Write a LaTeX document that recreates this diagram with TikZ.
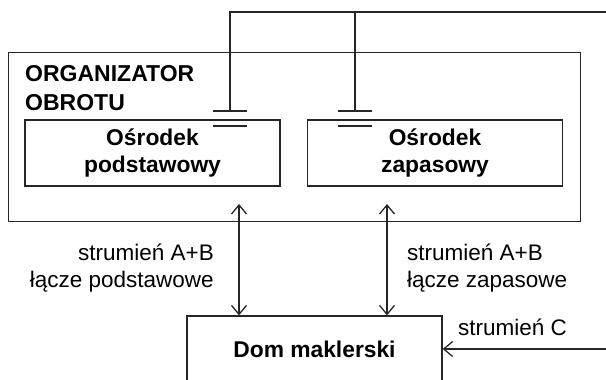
\documentclass[tikz,border=0pt]{standalone}
\usepackage{fontspec}
\setmainfont{Liberation Sans}
\usetikzlibrary{positioning,arrows.meta}
\tikzset{
  ln/.style={draw=black!85,line width=1.3pt},
  blok/.style={ln,minimum width=255pt,minimum height=66pt,inner sep=0pt,align=center,font=\fontsize{22.8}{27}\selectfont\bfseries},
  opis/.style={inner sep=0pt,font=\fontsize{22.5}{27}\selectfont}
}
\begin{document}
\begin{tikzpicture}[x=1pt,y=-1pt,>={Straight Barb[length=9pt,width=15pt]}]
    \useasboundingbox (0,0) rectangle (606,380);
    \clip (0,0) rectangle (606,380);
    \node[ln,minimum width=572pt,minimum height=169pt,anchor=north west] (org) at (8,52) {};
    \node[opis,font=\fontsize{23}{29}\selectfont\bfseries,align=left,anchor=north west] (tyt) at (25,65) {ORGANIZATOR\\OBROTU};
    \node[blok] (osp) at (152.5,153) {Ośrodek\\podstawowy};
    \node[blok] (osz) at (435,153) {Ośrodek\\zapasowy};
    \node[blok] (dom) at (314.5,349) {Dom maklerski};
    \coordinate (szyna) at (606,12);
    \foreach \n/\x in {p/230,z/355} {
        \coordinate (k\n) at (\x,111);
        \draw[ln] (\x-17,111) -- (\x+17,111) (\x-17,126) -- (\x+17,126);
    }
    \draw[ln] (kp) |- (szyna);
    \draw[ln] (kz) |- (szyna);
    \coordinate (ap) at (239,204);
    \coordinate (az) at (387,204);
    \draw[ln,<->] (ap) -- (ap |- dom.north);
    \draw[ln,<->] (az) -- (az |- dom.north);
    \node[opis,align=right,anchor=east] (lp) at (214,268) {strumień A+B\\łącze podstawowe};
    \node[opis,align=left,anchor=west] (lz) at (407,268) {strumień A+B\\łącze zapasowe};
    \coordinate (wej) at (606,349);
    \draw[ln,->] (wej) -- (wej -| dom.east);
    \node[opis,anchor=base west] (sc) at (458,335) {strumień C};
\end{tikzpicture}
\end{document}
